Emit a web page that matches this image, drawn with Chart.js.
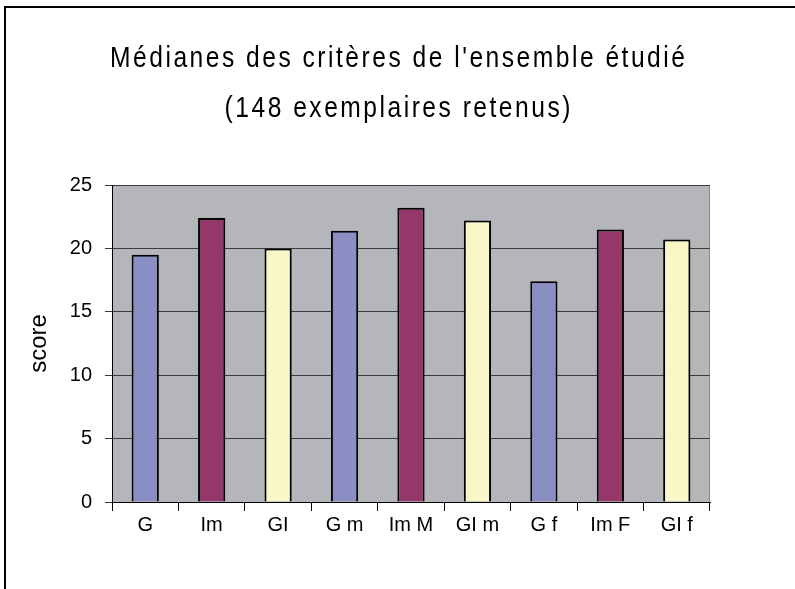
<!DOCTYPE html>
<html>
<head>
<meta charset="utf-8">
<script src="https://cdn.jsdelivr.net/npm/chart.js@4"></script>
<style>
  body { margin: 0; background: #fff; }
  #wrap { position: absolute; left: 0; top: 0; width: 795px; height: 589px; overflow: hidden; }
  #frame { position: absolute; left: 4px; top: 6px; width: 800px; height: 600px; border-top: 2px solid #000; border-left: 2px solid #000; pointer-events: none; }
</style>
</head>
<body>
<div id="wrap">
  <canvas id="c" width="795" height="589"></canvas>
  <div id="frame"></div>
</div>
<script>
const categories = ['G', 'Im', 'GI', 'G m', 'Im M', 'GI m', 'G f', 'Im F', 'GI f'];
const medians = [19.5, 22.4, 20.0, 21.4, 23.2, 22.2, 17.4, 21.5, 20.7];
const barColors = ['#8b8ec5', '#96376b', '#f9f7c8'];
const yTicks = [0, 5, 10, 15, 20, 25];
const titleLines = ['Médianes des critères de l\'ensemble étudié', '(148 exemplaires retenus)'];

const FONT = '"Liberation Sans", Arial, sans-serif';

// grey plot background + top/right border
const plotBg = {
  id: 'plotBg',
  beforeDraw(chart) {
    const { ctx, chartArea: a } = chart;
    ctx.save();
    ctx.fillStyle = '#b4b6b9';
    ctx.fillRect(a.left, a.top, a.right - a.left, a.bottom - a.top);
    ctx.strokeStyle = '#8a8a8a';
    ctx.lineWidth = 1;
    ctx.beginPath();
    ctx.moveTo(a.left, a.top + 0.5);
    ctx.lineTo(a.right - 0.5, a.top + 0.5);
    ctx.lineTo(a.right - 0.5, a.bottom);
    ctx.stroke();
    ctx.restore();
  }
};

// narrow, letter-spaced title centred on the whole canvas
const spacedTitle = {
  id: 'spacedTitle',
  afterDraw(chart) {
    const { ctx, width } = chart;
    const squeeze = 0.82;
    const spacing = 2.5;
    const baselines = [67, 117];
    ctx.save();
    ctx.font = '30px ' + FONT;
    ctx.fillStyle = '#000';
    ctx.textBaseline = 'alphabetic';
    titleLines.forEach((line, i) => {
      const chars = [...line];
      const widths = chars.map(ch => ctx.measureText(ch).width * squeeze + spacing);
      const total = widths.reduce((s, w) => s + w, 0) - spacing;
      let x = width / 2 - total / 2;
      chars.forEach((ch, j) => {
        ctx.save();
        ctx.translate(x, baselines[i]);
        ctx.scale(squeeze, 1);
        ctx.fillText(ch, 0, 0);
        ctx.restore();
        x += widths[j];
      });
    });
    ctx.restore();
  }
};

new Chart(document.getElementById('c'), {
  type: 'bar',
  data: {
    labels: categories,
    datasets: [{
      data: medians,
      backgroundColor: categories.map((_, i) => barColors[i % 3]),
      borderColor: '#000',
      borderWidth: 2,
      borderSkipped: 'bottom',
      categoryPercentage: 1,
      barPercentage: 0.41
    }]
  },
  options: {
    responsive: false,
    animation: false,
    layout: { padding: { top: 185, right: 85, bottom: 0, left: 10 } },
    plugins: {
      legend: { display: false },
      tooltip: { enabled: false },
      title: { display: false }
    },
    scales: {
      x: {
        offset: true,
        grid: { offset: true, drawOnChartArea: false, color: '#000', tickLength: 9 },
        border: { color: '#000', width: 1 },
        ticks: { color: '#000', font: { family: FONT, size: 20 }, padding: 2 },
        afterFit(s) { s.height = 87; }
      },
      y: {
        min: 0,
        max: 25,
        afterBuildTicks(s) { s.ticks = yTicks.map(v => ({ value: v })); },
        grid: { color: '#3a3a3a', tickLength: 7 },
        border: { color: '#000', width: 1 },
        ticks: { color: '#000', font: { family: FONT, size: 20 }, padding: 13 },
        title: { display: true, text: 'score', color: '#000', font: { family: FONT, size: 24 }, padding: { top: 15, bottom: 0 } },
        afterFit(s) { s.width = 102; }
      }
    }
  },
  plugins: [plotBg, spacedTitle]
});
</script>
</body>
</html>
